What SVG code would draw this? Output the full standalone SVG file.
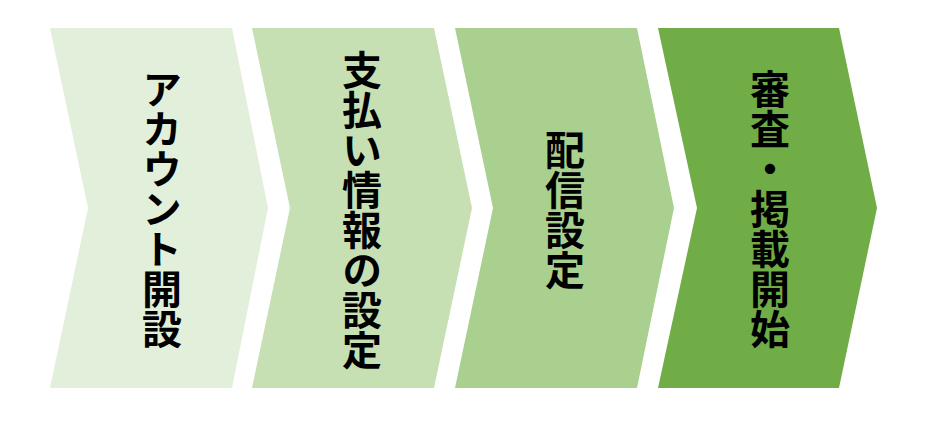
<svg xmlns="http://www.w3.org/2000/svg" width="931" height="425" viewBox="0 0 931 425">
<style>
.lbl{font-family:"Noto Sans CJK JP","Noto Sans CJK SC",sans-serif;font-size:40px;font-weight:700;fill:#000;writing-mode:vertical-rl;text-anchor:middle;}
</style>
<rect width="931" height="425" fill="#fff"/>
<g id="step1">
<polygon points="50,28 232,28 268,208 232,388 50,388 88,208" fill="#e2efda"/>
<text class="lbl" x="162" y="209">アカウント開設</text>
</g>
<g id="step2">
<polygon points="252,28 434,28 472,208 434,388 252,388 290,208" fill="#c6e0b4"/>
<text class="lbl" x="362" y="210">支払い情報の設定</text>
</g>
<g id="step3">
<polygon points="455,28 637,28 674,208 637,388 455,388 493,208" fill="#a9d08e"/>
<text class="lbl" x="565" y="210">配信設定</text>
</g>
<g id="step4">
<polygon points="658,28 839,28 877,208 839,388 658,388 697,208" fill="#70ad47"/>
<text class="lbl" x="770" y="209">審査・掲載開始</text>
</g>
<g id="connectors"></g>
</svg>
